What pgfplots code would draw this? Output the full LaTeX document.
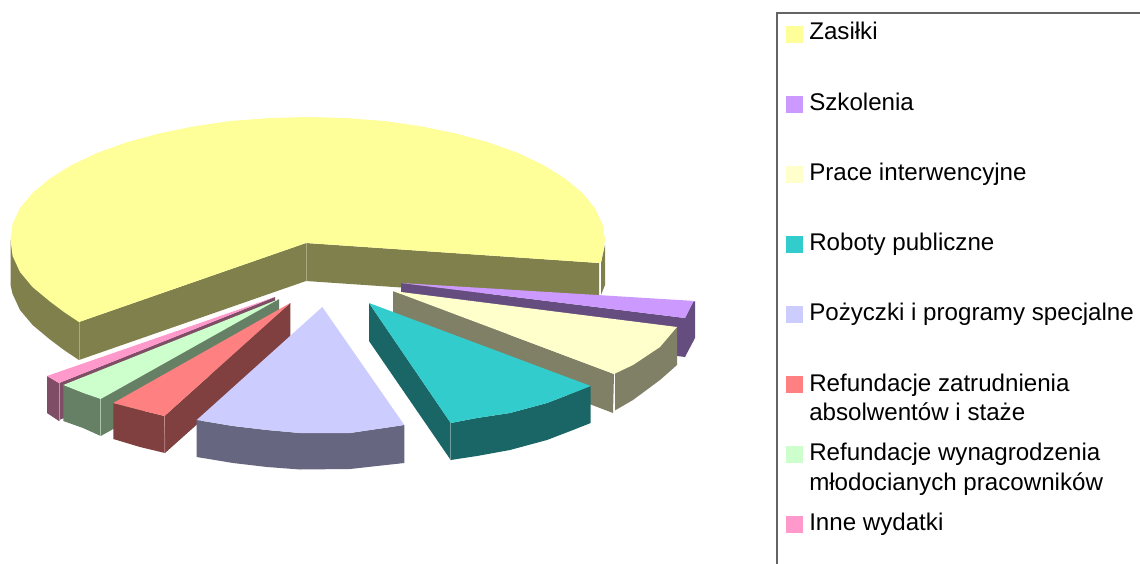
\documentclass[border=0pt]{standalone}
\usepackage{fontspec}
\setmainfont{Liberation Sans}
\usepackage{pgfplots}
\pgfplotsset{compat=1.18}
\definecolor{yT}{HTML}{FFFF99}\definecolor{yS}{HTML}{80804D}
\definecolor{pT}{HTML}{CC99FF}\definecolor{pS}{HTML}{664D80}
\definecolor{lT}{HTML}{FFFFCC}\definecolor{lS}{HTML}{808066}
\definecolor{tT}{HTML}{33CCCC}\definecolor{tS}{HTML}{1A6666}
\definecolor{bT}{HTML}{CCCCFF}\definecolor{bS}{HTML}{666680}
\definecolor{rT}{HTML}{FF8080}\definecolor{rS}{HTML}{804040}
\definecolor{gT}{HTML}{CCFFCC}\definecolor{gS}{HTML}{668066}
\definecolor{kT}{HTML}{FF99CC}\definecolor{kS}{HTML}{804D66}
\definecolor{yE}{HTML}{AAAA82}\definecolor{tE}{HTML}{6EA0A0}
\definecolor{kE}{HTML}{BE96AA}\definecolor{gE}{HTML}{AAC3AA}
\definecolor{rE}{HTML}{BE8C8C}\definecolor{frame}{HTML}{646464}
\tikzset{
  poly/.style={fill=#1,draw=none},
  edge/.style={draw=#1,line width=0.5pt},
  leg/.style={anchor=base west,inner sep=0pt,font=\fontsize{18.1}{20}\selectfont}
}
\begin{document}
\begin{tikzpicture}
\begin{axis}[scale only axis,width=855pt,height=423pt,xmin=0,xmax=1140,ymin=0,ymax=564,y dir=reverse,hide axis,clip=true,no markers]
\addplot[poly=white] coordinates {(0,0)(1140,0)(1140,564)(0,564)} --cycle;
% Zasilki
\addplot[poly=yS] coordinates {(10.5,240)(10.5,285)(12.6,294)(20,310)(32.6,325)(50,339.5)(64,350)(79,360)(79,322)} --cycle;
\addplot[poly=yS] coordinates {(79,322)(306,243)(306,281)(79,360)} --cycle;
\addplot[poly=yS] coordinates {(306,243)(599,263)(599,301)(306,281)} --cycle;
\addplot[poly=yS] coordinates {(601,263)(605,245)(605,285)(601,295)} --cycle;
\addplot[edge=yE] coordinates {(79,322)(79,360)};
\addplot[edge=yE] coordinates {(306,243)(306,281)};
\addplot[poly=yT] coordinates {(599,263)(601,262)(605,240)(602.4,224)(594.9,208.2)(582.4,192.9)(565,178.5)(543.5,165.1)(518,153)(488.6,142.4)(456,133.5)(421.4,126.4)(384.5,121)(346.3,118.1)(307.5,117)(268.7,118.1)(230.5,121)(193.6,126.4)(159,133.5)(126.4,142.4)(97,153)(71.5,165.1)(50,178.5)(32.6,192.9)(20,208)(12.6,224)(10.5,240)(12.6,256)(20,272)(32.6,287.1)(50,301.5)(64,312)(79,322)(306,243)} --cycle;
% Szkolenia
\addplot[poly=pS] coordinates {(401,283)(401,321)(685,357)(685,318)} --cycle;
\addplot[poly=pS] coordinates {(685,318)(693,302)(695,301)(695,338)(685,357)} --cycle;
\addplot[poly=pT] coordinates {(401,283)(695,301)(693,302)(685,318)} --cycle;
% Prace interwencyjne
\addplot[poly=lS] coordinates {(393,291)(614,374)(613,413)(393,329)} --cycle;
\addplot[poly=lS] coordinates {(614,374)(677,327)(677,365)(660,380)(633,400)(614,411)} --cycle;
\addplot[edge=white] coordinates {(614,374)(614,411)};
\addplot[poly=lT] coordinates {(393,291)(677,327)(660,347)(633,365)(614,374)} --cycle;
% Roboty publiczne
\addplot[poly=tS] coordinates {(369,303)(369,341)(450.7,460)(450.7,423)} --cycle;
\addplot[poly=tS] coordinates {(450.7,423)(477,418)(510,413)(547,403)(573,393)(590.7,386)(590.7,423)(573,430)(547,440)(510,450)(477,456)(450.7,460)} --cycle;
\addplot[edge=tE] coordinates {(450.7,423)(450.7,460)};
\addplot[poly=tT] coordinates {(369,303)(590.7,386)(573,393)(547,403)(510,413)(477,418)(450.7,423)} --cycle;
% Inne wydatki
\addplot[poly=kS] coordinates {(275,297)(275,335)(59,420)(59,383)} --cycle;
\addplot[poly=kS] coordinates {(47,376)(59,383)(59,421)(47,413)} --cycle;
\addplot[edge=kE] coordinates {(59,383)(59,421)};
\addplot[poly=kT] coordinates {(275,297)(59,383)(47,376)} --cycle;
% Refundacje wynagrodzenia
\addplot[poly=gS] coordinates {(279,299)(279,337)(100.7,436)(100.7,399)} --cycle;
\addplot[poly=gS] coordinates {(63.3,385)(83.3,393)(100.7,399)(100.7,436)(83,428)(63.3,421)} --cycle;
\addplot[edge=gE] coordinates {(100.7,399)(100.7,436)};
\addplot[poly=gT] coordinates {(279,299)(100.7,399)(83.3,393)(63.3,385)} --cycle;
% Refundacje zatrudnienia
\addplot[poly=rS] coordinates {(290.3,303)(290.3,341)(165,453)(164.5,416)} --cycle;
\addplot[poly=rS] coordinates {(113.3,403)(140,410)(164.5,416)(165,453)(140,447)(113.3,439)} --cycle;
\addplot[edge=rE] coordinates {(164.5,416)(164.8,453)};
\addplot[poly=rT] coordinates {(290.3,303)(164.5,416)(140,410)(113.3,403)} --cycle;
% Pozyczki
\addplot[poly=bS] coordinates {(196.7,420)(233,426)(267,430)(300,433)(350,433)(404.3,425)(404.3,463)(350,469)(300,469.5)(267,467)(233,463)(196.7,457)} --cycle;
\addplot[poly=bT] coordinates {(322.3,307)(404.3,425)(350,433)(300,433)(267,430)(233,426)(196.7,420)} --cycle;
% Legend
\addplot[draw=frame,line width=1pt] coordinates {(1145,13)(777,13)(777,570)};
\addplot[poly=yT] coordinates {(786,26)(803.3,26)(803.3,43.3)(786,43.3)} --cycle;
\addplot[poly=pT] coordinates {(786,96)(803.3,96)(803.3,113.3)(786,113.3)} --cycle;
\addplot[poly=lT] coordinates {(786,166)(803.3,166)(803.3,183.3)(786,183.3)} --cycle;
\addplot[poly=tT] coordinates {(786,236)(803.3,236)(803.3,253.3)(786,253.3)} --cycle;
\addplot[poly=bT] coordinates {(786,306)(803.3,306)(803.3,323.3)(786,323.3)} --cycle;
\addplot[poly=rT] coordinates {(786,376)(803.3,376)(803.3,393.3)(786,393.3)} --cycle;
\addplot[poly=gT] coordinates {(786,446)(803.3,446)(803.3,463.3)(786,463.3)} --cycle;
\addplot[poly=kT] coordinates {(786,516)(803.3,516)(803.3,533.3)(786,533.3)} --cycle;
\node[leg] at (axis cs:809,40) {Zasiłki};
\node[leg] at (axis cs:809,110) {Szkolenia};
\node[leg] at (axis cs:809,180.5) {Prace interwencyjne};
\node[leg] at (axis cs:809,250) {Roboty publiczne};
\node[leg] at (axis cs:809,320) {Pożyczki i programy specjalne};
\node[leg] at (axis cs:809,391) {Refundacje zatrudnienia};
\node[leg] at (axis cs:809,420) {absolwentów i staże};
\node[leg] at (axis cs:809,460) {Refundacje wynagrodzenia};
\node[leg] at (axis cs:809,490) {młodocianych pracowników};
\node[leg] at (axis cs:809,530) {Inne wydatki};
\end{axis}
\end{tikzpicture}
\end{document}
